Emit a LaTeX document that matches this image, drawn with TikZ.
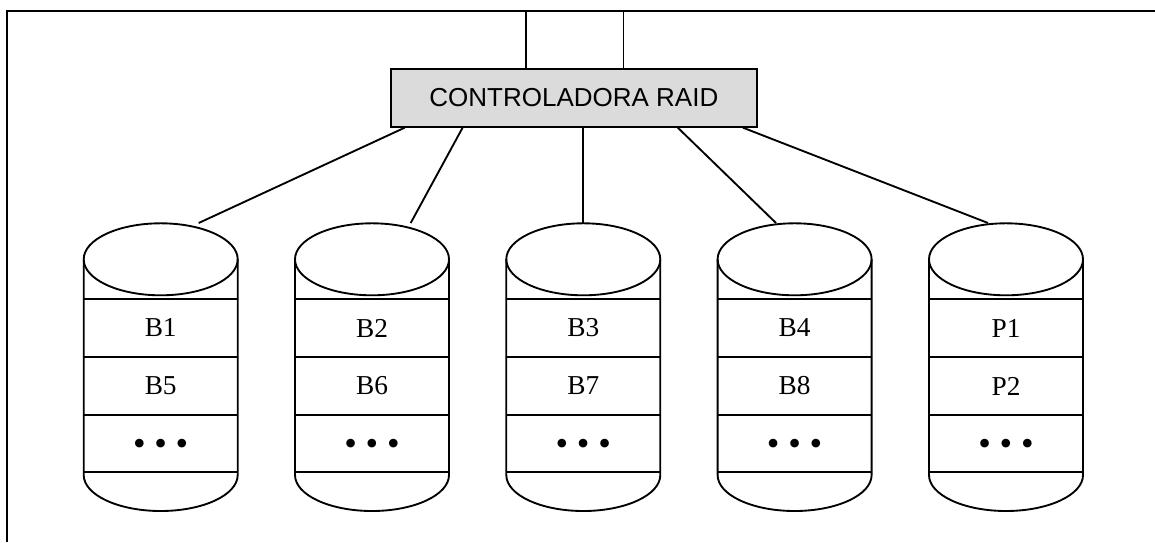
\documentclass[tikz,border=0pt]{standalone}
\usepackage{fontspec}
\setmainfont{Liberation Serif}
\newfontfamily\ctrlfont{Liberation Sans}
\tikzset{every path/.style={line width=1.4pt},
  ctrlbox/.style={draw, fill=black!14, minimum width=274.3pt, minimum height=43.3pt,
    inner sep=0pt, font=\ctrlfont\fontsize{19.5}{22}\selectfont},
  disklabel/.style={inner sep=1pt, font=\fontsize{20.5}{24}\selectfont},
  dotlabel/.style={inner sep=0pt, anchor=base, font=\fontsize{27}{30}\selectfont}}
\newcommand{\dotcell}{\makebox[16pt]{•}}

\begin{document}
\begin{tikzpicture}[x=0.75pt,y=-0.75pt]
   \useasboundingbox (0,0) rectangle (1155,542);
   % frame
   \coordinate (frametop) at (7,11);
   \draw (1155,11) -- (frametop) -- (7,542);
   % controller
   \node[ctrlbox] (ctrl) at (573.85,97.85) {CONTROLADORA RAID};
   \draw (ctrl.148.9) -- (ctrl.148.9 |- frametop);
   \draw (ctrl.31.1)  -- (ctrl.31.1 |- frametop);
   % disks
   \foreach \c/\ta/\tb/\off [count=\i] in {160.7/B1/B5/38, 372/B2/B6/38.7,
                                          583.3/B3/B7/0, 794.6/B4/B8/-18.6, 1006/P1/P2/-18}{
    \draw (\c,259.3) ellipse [x radius=77, y radius=36];
    \draw (\c-77,259.3) -- (\c-77,475) arc [start angle=180, end angle=0, x radius=77, y radius=36]
          -- (\c+77,259.3);
    \foreach \y in {299.3,357,414.7,472.3}
      \draw (\c-77,\y) -- (\c+77,\y);
    \node[disklabel] (rowa\i) at (\c,328) {\ta};
    \node[disklabel] (rowb\i) at (\c,386) {\tb};
    \node[dotlabel] (rowc\i) at (\c,455) {\dotcell\dotcell\dotcell};
    \coordinate (top\i) at (\c+\off,223);
   }
   % connectors
   \draw (ctrl.190)   -- (top1);
   \draw (ctrl.195.2) -- (top2);
   \draw (ctrl.south -| top3) -- (top3);
   \draw (ctrl.344.8) -- (top4);
   \draw (ctrl.350)   -- (top5);
\end{tikzpicture}
\end{document}
